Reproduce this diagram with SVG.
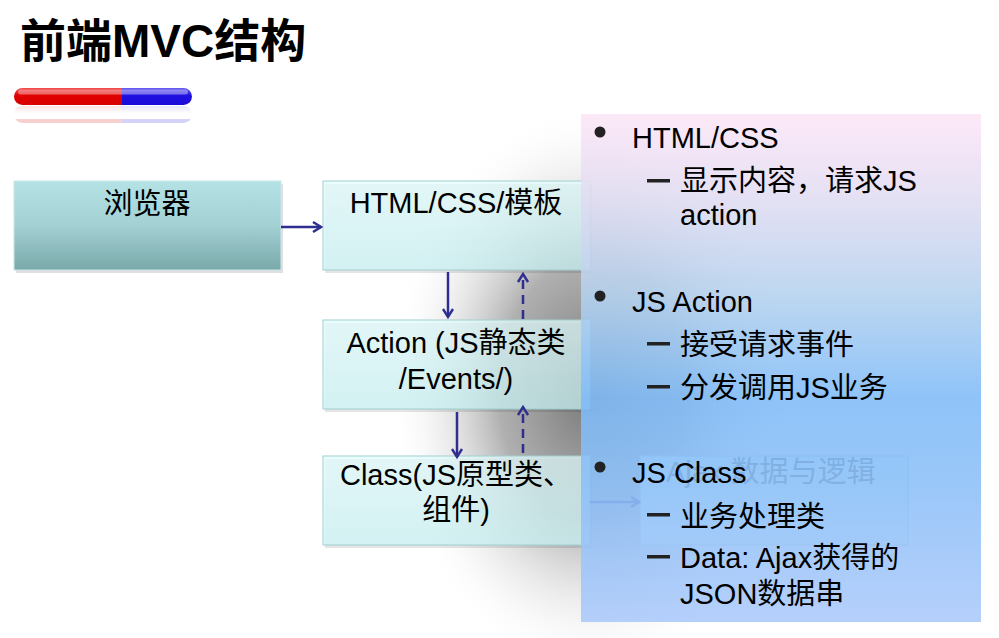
<svg xmlns="http://www.w3.org/2000/svg" width="999" height="638" viewBox="0 0 999 638">
<defs>
<linearGradient id="gBrowser" x1="0" y1="0" x2="0" y2="1">
<stop offset="0" stop-color="#b4e2e5"/>
<stop offset="0.5" stop-color="#a2d0d3"/>
<stop offset="1" stop-color="#7aa9aa"/>
</linearGradient>
<linearGradient id="gBox" x1="0" y1="0" x2="0" y2="1">
<stop offset="0" stop-color="#e2fdfe"/>
<stop offset="1" stop-color="#ccf6f8"/>
</linearGradient>
<radialGradient id="gShadow" cx="590" cy="390" r="260" gradientUnits="userSpaceOnUse" gradientTransform="translate(590 390) scale(0.78 1.1) translate(-590 -390)">
<stop offset="0" stop-color="#707070" stop-opacity="0.95"/>
<stop offset="0.45" stop-color="#959595" stop-opacity="0.75"/>
<stop offset="1" stop-color="#ffffff" stop-opacity="0"/>
</radialGradient>
<linearGradient id="gPanel" x1="0" y1="0" x2="0" y2="1">
<stop offset="0" stop-color="#fce6f7"/>
<stop offset="0.17" stop-color="#e0dcf2"/>
<stop offset="0.35" stop-color="#b6d2ee"/>
<stop offset="0.56" stop-color="#7fbbf8"/>
<stop offset="0.75" stop-color="#8ec0f8"/>
<stop offset="1" stop-color="#abc9fa"/>
</linearGradient>
<linearGradient id="gRed" x1="0" y1="0" x2="0" y2="1">
<stop offset="0" stop-color="#f25050"/>
<stop offset="0.45" stop-color="#e00000"/>
<stop offset="1" stop-color="#d80000"/>
</linearGradient>
<linearGradient id="gBlue" x1="0" y1="0" x2="0" y2="1">
<stop offset="0" stop-color="#6a60f0"/>
<stop offset="0.45" stop-color="#2010e0"/>
<stop offset="1" stop-color="#1a0ad8"/>
</linearGradient>
<linearGradient id="gRefl" x1="0" y1="0" x2="0" y2="1">
<stop offset="0" stop-color="#ffffff" stop-opacity="0.3"/>
<stop offset="0.6" stop-color="#ffffff" stop-opacity="1"/>
</linearGradient>
<clipPath id="barClip"><rect x="14" y="88" width="178" height="17" rx="8.5"/></clipPath>
<marker id="ah" viewBox="0 0 12 12" refX="10" refY="6" markerWidth="12" markerHeight="12" markerUnits="userSpaceOnUse" orient="auto">
<path d="M2,1 L10,6 L2,11" fill="none" stroke="#2e2e90" stroke-width="2.4"/>
</marker>
</defs>
<style>
.t{font-family:"Liberation Sans","Noto Sans CJK SC",sans-serif;font-size:29px;fill:#000}
.c{text-anchor:middle}
.box{fill:url(#gBox);fill-opacity:0.72;stroke:#9fcfd0;stroke-width:1}
.conn{fill:none;stroke:#2e2e90;stroke-width:2.5}
.dash{stroke-dasharray:9 6}
.dot{fill:#222}
.dsh{fill:#222}
</style>
<rect width="999" height="638" fill="#ffffff"/>

<g id="title">
<text x="20" y="57" style="font-family:'Liberation Sans','Noto Sans CJK SC',sans-serif;font-size:46px;font-weight:bold" fill="#000">前端MVC结构</text>
</g>

<g id="bar">
<g opacity="0.18" transform="translate(0 211) scale(1 -1)">
<g clip-path="url(#barClip)">
<rect x="14" y="88" width="108" height="17" fill="#e00000"/>
<rect x="122" y="88" width="70" height="17" fill="#2010e0"/>
</g>
</g>
<rect x="10" y="105" width="190" height="14" fill="url(#gRefl)"/>
<g clip-path="url(#barClip)">
<rect x="14" y="88" width="108" height="17" fill="url(#gRed)"/>
<rect x="122" y="88" width="70" height="17" fill="url(#gBlue)"/>
<rect x="18" y="89.5" width="170" height="5" rx="2.5" fill="#ffffff" opacity="0.35"/>
</g>
</g>

<ellipse cx="590" cy="390" rx="205" ry="286" fill="url(#gShadow)"/>

<g id="browser">
<rect x="16" y="184" width="267" height="89" fill="#000" opacity="0.12"/>
<rect x="14" y="181" width="267" height="89" fill="url(#gBrowser)" stroke="#c8e8ea" stroke-width="1"/>
<text class="t c" x="147" y="214">浏览器</text>
</g>

<g id="html">
<rect x="325" y="184" width="267" height="89" fill="#000" opacity="0.1"/>
<rect class="box" x="323" y="181" width="267" height="89"/>
<text class="t c" x="456" y="213">HTML/CSS/模板</text>
</g>

<g id="action">
<rect x="325" y="323" width="267" height="89" fill="#000" opacity="0.1"/>
<rect class="box" x="323" y="320" width="267" height="89"/>
<text class="t c" x="456" y="353">Action (JS静态类</text>
<text class="t c" x="456" y="389">/Events/)</text>
</g>

<g id="class">
<rect x="325" y="459" width="267" height="89" fill="#000" opacity="0.1"/>
<rect class="box" x="323" y="456" width="267" height="89"/>
<text class="t c" x="456" y="485">Class(JS原型类、</text>
<text class="t c" x="456" y="520">组件)</text>
</g>

<g id="ajax">
<rect x="640" y="456" width="268" height="89" fill="#e2fdfe" stroke="#9fcfd0" stroke-width="1"/>
<text class="t" x="666" y="482" style="fill:#404040">Ajax 数据与逻辑</text>
</g>

<g id="connectors">
<line class="conn" x1="281" y1="227" x2="321" y2="227" marker-end="url(#ah)"/>
<line class="conn" x1="448" y1="272" x2="448" y2="317" marker-end="url(#ah)"/>
<line class="conn dash" x1="523" y1="319" x2="523" y2="274" marker-end="url(#ah)"/>
<line class="conn" x1="457" y1="412" x2="457" y2="457" marker-end="url(#ah)"/>
<line class="conn dash" x1="523" y1="453" x2="523" y2="407" marker-end="url(#ah)"/>
<line class="conn" x1="590" y1="502" x2="639" y2="502" marker-end="url(#ah)"/>
</g>

<g id="panel">
<rect x="581" y="114" width="400" height="508" fill="url(#gPanel)" opacity="0.88"/>
<circle class="dot" cx="600" cy="132" r="5.5"/>
<text class="t" x="632" y="148">HTML/CSS</text>
<rect class="dsh" x="647" y="179" width="23" height="3.5"/>
<text class="t" x="680" y="191">显示内容，请求JS</text>
<text class="t" x="680" y="225">action</text>
<circle class="dot" cx="600" cy="296" r="5.5"/>
<text class="t" x="632" y="312">JS Action</text>
<rect class="dsh" x="647" y="342" width="23" height="3.5"/>
<text class="t" x="680" y="355">接受请求事件</text>
<rect class="dsh" x="647" y="385" width="23" height="3.5"/>
<text class="t" x="680" y="398">分发调用JS业务</text>
<circle class="dot" cx="600" cy="467" r="5.5"/>
<text class="t" x="632" y="483">JS Class</text>
<rect class="dsh" x="647" y="513" width="23" height="3.5"/>
<text class="t" x="680" y="527">业务处理类</text>
<rect class="dsh" x="647" y="555" width="23" height="3.5"/>
<text class="t" x="680" y="568">Data: Ajax获得的</text>
<text class="t" x="680" y="604">JSON数据串</text>
</g>
</svg>
